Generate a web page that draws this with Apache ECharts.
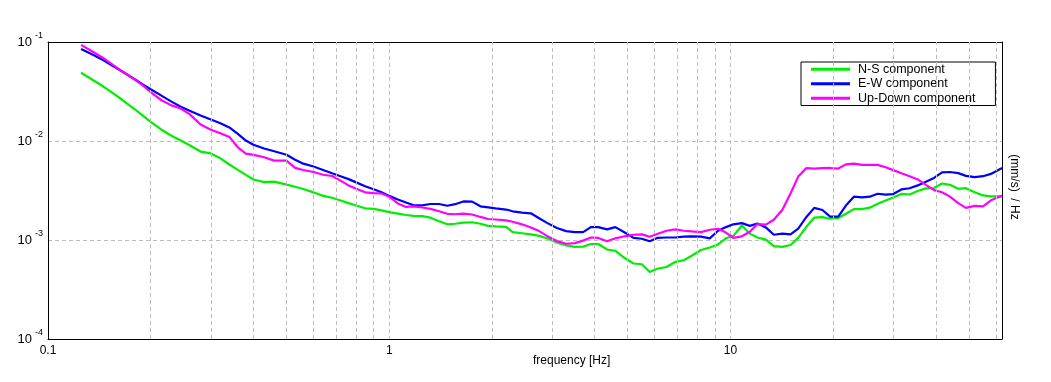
<!DOCTYPE html>
<html>
<head>
<meta charset="utf-8">
<style>html,body{margin:0;padding:0;background:#fff;}#c{width:1051px;height:382px;}</style>
<script src="https://cdn.jsdelivr.net/npm/echarts@6/dist/echarts.min.js"></script>
</head>
<body>
<div id="c"></div>
<script>
const freq = [0.125,0.135,0.145,0.155,0.165,0.18,0.19,0.2,0.215,0.23,
0.245,0.26,0.28,0.3,0.32,0.34,0.36,0.38,0.4,0.43,
0.46,0.5,0.53,0.56,0.6,0.64,0.68,0.72,0.76,0.8,
0.85,0.9,0.95,1.0,1.06,1.12,1.18,1.25,1.32,1.4,
1.48,1.56,1.65,1.75,1.85,1.95,2.05,2.2,2.3,2.45,
2.6,2.75,2.9,3.1,3.3,3.5,3.7,3.9,4.1,4.35,
4.6,4.9,5.2,5.5,5.8,6.1,6.5,6.9,7.3,7.7,
8.2,8.7,9.2,9.7,10.2,10.8,11.4,12.0,12.7,13.4,
14.2,15,15.8,16.7,17.6,18.6,19.6,20.7,21.8,23,
24.3,25.6,27,28.5,30,31.7,33.5,35.4,37.4,39.5,
41.7,44,46.5,49,52,55,58,62.5];

const nsComponent = [0.0489,0.0416,0.0357,0.0304,0.0261,0.0208,0.0179,0.0156,0.0130,0.0113,
0.0101,0.00905,0.00782,0.00749,0.00669,0.00579,0.00511,0.00455,0.00408,0.00384,
0.00389,0.00362,0.00345,0.00327,0.00303,0.00279,0.00267,0.00251,0.00236,0.00223,
0.00209,0.00206,0.00199,0.00191,0.00185,0.00179,0.00175,0.00174,0.00168,0.00155,
0.00144,0.00146,0.00150,0.00151,0.00146,0.00139,0.00137,0.00136,0.00120,0.00117,
0.00114,0.00110,0.00104,0.000944,0.000883,0.000851,0.000857,0.000910,0.000910,0.000801,
0.000775,0.000657,0.000579,0.000569,0.000475,0.000512,0.000534,0.000602,0.000624,0.000694,
0.000792,0.000841,0.000901,0.00104,0.00110,0.00140,0.00116,0.00106,0.00101,0.000866,
0.000851,0.000891,0.00105,0.00136,0.00168,0.00170,0.00164,0.00167,0.00184,0.00205,
0.00205,0.00212,0.00232,0.00250,0.00269,0.00292,0.00288,0.00312,0.00332,0.00335,
0.00372,0.00361,0.00329,0.00334,0.00304,0.00282,0.00276,0.00276];

const ewComponent = [0.085,0.0747,0.0658,0.0573,0.0504,0.0418,0.0371,0.0333,0.0287,0.0250,
0.0222,0.0202,0.0181,0.0165,0.0151,0.0137,0.0118,0.0101,0.00916,0.00841,
0.00788,0.00727,0.00647,0.00590,0.00553,0.00510,0.00472,0.00440,0.00412,0.00382,
0.00349,0.00326,0.00304,0.00279,0.00257,0.00239,0.00224,0.00224,0.00231,0.00231,
0.00222,0.00230,0.00245,0.00244,0.00219,0.00214,0.00209,0.00203,0.00195,0.00189,
0.00186,0.00166,0.00149,0.00132,0.00123,0.00120,0.00120,0.00135,0.00135,0.00128,
0.00135,0.00119,0.00105,0.00103,0.000973,0.00105,0.00106,0.00106,0.00108,0.00109,
0.00108,0.00104,0.00124,0.00135,0.00144,0.00148,0.00139,0.00147,0.00134,0.00113,
0.00116,0.00114,0.00130,0.00171,0.00211,0.00201,0.00172,0.00172,0.00223,0.00274,
0.00269,0.00274,0.00293,0.00287,0.00291,0.00324,0.00333,0.00356,0.00388,0.00424,
0.00482,0.00486,0.00474,0.00444,0.00431,0.00441,0.00465,0.00533];

const udComponent = [0.0935,0.0801,0.0691,0.0587,0.0506,0.0415,0.0363,0.0311,0.0258,0.0229,
0.0213,0.0187,0.0147,0.0130,0.0120,0.0110,0.00864,0.00747,0.00725,0.00686,
0.00634,0.00634,0.00535,0.00509,0.00486,0.00456,0.00443,0.00398,0.00356,0.00329,
0.00303,0.00298,0.00295,0.00274,0.00234,0.00216,0.00219,0.00213,0.00206,0.00195,
0.00184,0.00182,0.00185,0.00181,0.00171,0.00163,0.00161,0.00158,0.00153,0.00144,
0.00134,0.00123,0.00110,0.000975,0.000916,0.000929,0.000986,0.00106,0.00105,0.000971,
0.00104,0.00109,0.00113,0.00114,0.00108,0.00115,0.00124,0.00128,0.00124,0.00122,
0.00120,0.00127,0.00130,0.00119,0.00105,0.00109,0.00121,0.00145,0.00143,0.00160,
0.00202,0.00295,0.00437,0.00532,0.00527,0.00531,0.00534,0.00527,0.00581,0.00590,
0.00574,0.00574,0.00574,0.00543,0.00508,0.00472,0.00440,0.00409,0.00360,0.00319,
0.00304,0.00274,0.00236,0.00211,0.00221,0.00219,0.00252,0.00280];

const seriesNames = ['N-S component','E-W component','Up-Down component'];
const xMinorGrid = [0.2,0.3,0.4,0.5,0.6,0.7,0.8,0.9,2,3,4,5,6,7,8,9,20,30,40,50,60];
const xLabelValues = ['0.1','1','10'];

const FONT = "'Liberation Sans', Arial, sans-serif";
const gridColor = '#bdbdbd';
const chart = echarts.init(document.getElementById('c'), null, {renderer:'canvas'});

function isDecade(v){ const l = Math.log10(v); return Math.abs(l - Math.round(l)) < 1e-6; }

const mk = (vals) => freq.map((f,i)=>[f, vals[i]]);

chart.setOption({
  animation: false,
  backgroundColor: '#fff',
  grid: {left: 48, right: 49, top: 42, bottom: 43, show: false, containLabel: false},
  legend: {
    data: seriesNames, orient: 'vertical', left: 801, top: 62,
    padding: [0, 20, 0, 10], itemGap: 0, itemWidth: 39, itemHeight: 3, icon: 'rect',
    borderColor: '#000', borderWidth: 1, backgroundColor: '#fff',
    textStyle: {fontFamily: FONT, fontSize: 12.5, color: '#000', lineHeight: 14.5, padding: [0,0,0,3]}
  },
  xAxis: [{
    type: 'log', logBase: 10, min: 0.1, max: 62.5, position: 'bottom',
    axisLine: {show: true, onZero: false, lineStyle: {color: '#000', width: 1}}, axisTick: {show: false},
    splitLine: {show: true, showMinLine: false, showMaxLine: false, lineStyle: {color: gridColor, type: [4,3], width: 1}},
    axisLabel: {fontFamily: FONT, fontSize: 12, color: '#000', margin: 6, showMaxLabel: false,
      formatter: v => { if (!isDecade(v)) return ''; const e = Math.round(Math.log10(v)); return xLabelValues[e+1] || ''; }}
  }, {
    type: 'log', logBase: 10, min: 0.1, max: 62.5, position: 'top',
    axisLine: {show: true, onZero: false, lineStyle: {color: '#000', width: 1}}, axisTick: {show: false},
    axisLabel: {show: false}, splitLine: {show: false}
  }],
  yAxis: [{
    type: 'log', logBase: 10, min: 1e-4, max: 0.1, position: 'left',
    axisLine: {show: true, onZero: false, lineStyle: {color: '#000', width: 1}}, axisTick: {show: false},
    splitLine: {show: true, showMinLine: false, showMaxLine: false, lineStyle: {color: gridColor, type: [4,3], width: 1}},
    axisLabel: {margin: 5,
      formatter: v => '{a|10}{b|' + Math.round(Math.log10(v)) + '}',
      rich: {
        a: {fontFamily: FONT, fontSize: 13, color: '#000'},
        b: {fontFamily: FONT, fontSize: 9, color: '#000', padding: [0,0,12,3]}
      }
    }
  }, {
    type: 'log', logBase: 10, min: 1e-4, max: 0.1, position: 'right',
    axisLine: {show: true, onZero: false, lineStyle: {color: '#000', width: 1}}, axisTick: {show: false},
    axisLabel: {show: false}, splitLine: {show: false}
  }],
  graphic: [
    {type: 'text', left: 573 - 40, top: 355, style: {text: 'frequency [Hz]', font: "12px 'Liberation Sans', Arial", fill: '#000', width: 80, align: 'center'}},
    {type: 'text', x: 1014, y: 187, rotation: -Math.PI/2, style: {text: '(mm/s)  / Hz', font: "12px 'Liberation Sans', Arial", fill: '#000', align: 'center', verticalAlign: 'middle'}, originX: 0, originY: 0}
  ],
  series: [
    {type: 'line', name: '_grid', data: [], silent: true, z: 1,
      markLine: {silent: true, symbol: ['none','none'], label: {show: false}, animation: false,
        lineStyle: {color: gridColor, type: [4,3], width: 1},
        data: xMinorGrid.map(v => ({xAxis: v}))}},
    {type: 'line', name: seriesNames[0], data: mk(nsComponent), showSymbol: false, color: '#00ee00', lineStyle: {width: 2.2, color: '#00ee00'}, z: 3},
    {type: 'line', name: seriesNames[1], data: mk(ewComponent), showSymbol: false, color: '#0000ff', lineStyle: {width: 2.2, color: '#0000ff'}, z: 3},
    {type: 'line', name: seriesNames[2], data: mk(udComponent), showSymbol: false, color: '#ff00ff', lineStyle: {width: 2.2, color: '#ff00ff'}, z: 3}
  ]
});
</script>
</body>
</html>
